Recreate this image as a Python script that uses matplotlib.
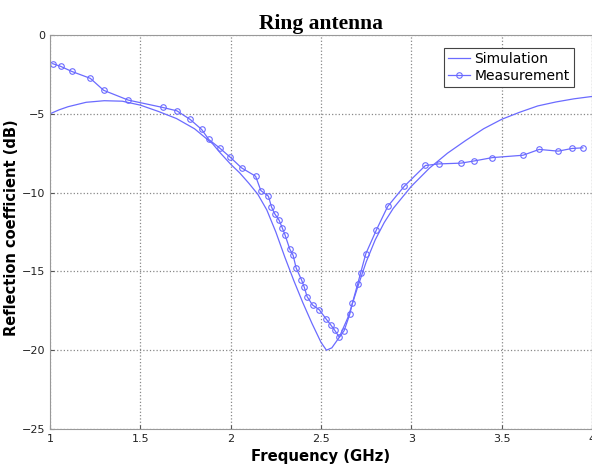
import matplotlib.pyplot as plt

# simulated reflection coefficient
sim_freq = [1.0, 1.05, 1.1, 1.2, 1.3, 1.4, 1.5, 1.6, 1.7, 1.8, 1.9, 1.94, 2.0,
            2.05, 2.1, 2.15, 2.2, 2.25, 2.3, 2.35, 2.4, 2.45, 2.5, 2.53, 2.56,
            2.6, 2.65, 2.7, 2.75, 2.8, 2.85, 2.9, 2.95, 3.0, 3.1, 3.2, 3.3,
            3.4, 3.5, 3.6, 3.7, 3.8, 3.9, 4.0]
sim_db = [-5.0, -4.75, -4.55, -4.27, -4.17, -4.2, -4.45, -4.85, -5.3, -5.95,
          -6.9, -7.45, -8.2, -8.75, -9.4, -10.1, -11.1, -12.5, -14.1, -15.6,
          -17.0, -18.3, -19.5, -20.0, -19.85, -19.2, -17.9, -16.1, -14.4,
          -13.0, -11.9, -11.0, -10.3, -9.6, -8.45, -7.5, -6.7, -5.95, -5.35,
          -4.9, -4.5, -4.25, -4.05, -3.9]

# measured points
meas_freq = [1.015, 1.059, 1.12, 1.223, 1.297, 1.433, 1.625, 1.702, 1.776,
             1.839, 1.879, 1.94, 1.999, 2.06, 2.138, 2.167, 2.209, 2.226,
             2.243, 2.268, 2.285, 2.30, 2.327, 2.346, 2.362, 2.392, 2.407,
             2.423, 2.453, 2.49, 2.527, 2.553, 2.575, 2.602, 2.628, 2.659,
             2.674, 2.703, 2.72, 2.748, 2.807, 2.869, 2.96, 3.078, 3.152,
             3.275, 3.349, 3.448, 3.618, 3.708, 3.813, 3.889, 3.949]
meas_db = [-1.82, -1.99, -2.31, -2.75, -3.51, -4.13, -4.6, -4.81, -5.36,
           -5.99, -6.63, -7.18, -7.77, -8.43, -8.96, -9.87, -10.23, -10.91,
           -11.33, -11.75, -12.22, -12.66, -13.58, -13.99, -14.77, -15.53,
           -15.99, -16.6, -17.13, -17.43, -18.0, -18.38, -18.72, -19.18,
           -18.76, -17.73, -17.0, -15.8, -15.07, -13.88, -12.36, -10.88,
           -9.61, -8.28, -8.18, -8.13, -7.99, -7.78, -7.63, -7.26, -7.37,
           -7.2, -7.16]

x_ticks = [1, 1.5, 2, 2.5, 3, 3.5, 4]
y_ticks = [0, -5, -10, -15, -20, -25]

blue = (0.42, 0.42, 1.0)

fig = plt.figure(figsize=(5.92, 4.7), dpi=100)
ax = fig.add_axes([50 / 592, 1 - 429 / 470, 542 / 592, 394 / 470])

ax.plot(sim_freq, sim_db, color=blue, lw=0.9, label='Simulation')
ax.plot(meas_freq, meas_db, color=blue, lw=0.9, marker='o', ms=4,
        mfc='none', mew=0.8, label='Measurement')

ax.set_xlim(1, 4)
ax.set_ylim(-25, 0)
ax.set_xticks(x_ticks)
ax.set_xticklabels(['1', '1.5', '2', '2.5', '3', '3.5', '4'])
ax.set_yticks(y_ticks)
ax.tick_params(labelsize=8, direction='in', length=3, color='#555555',
               labelcolor='#222222')
ax.grid(True, linestyle=':', color='#888888', lw=0.9)
for s in ax.spines.values():
    s.set_color('#999999')

ax.set_title('Ring antenna', fontfamily='Liberation Serif', fontweight='bold',
             fontsize=15.5, pad=4)
ax.set_xlabel('Frequency (GHz)', fontweight='bold', fontsize=10.7, labelpad=4)
ax.set_ylabel('Reflection coefficient (dB)', fontweight='bold', fontsize=10.5)
ax.yaxis.set_label_coords(-0.058, 0.51)

leg = ax.legend(loc='upper right', bbox_to_anchor=(0.966, 0.968), fontsize=10,
                fancybox=False, framealpha=1, edgecolor='#444444',
                borderpad=0.3, handlelength=1.6, handletextpad=0.3,
                labelspacing=0.25, borderaxespad=0)
leg.get_frame().set_linewidth(0.8)

fig.savefig('out.png', dpi=100)
